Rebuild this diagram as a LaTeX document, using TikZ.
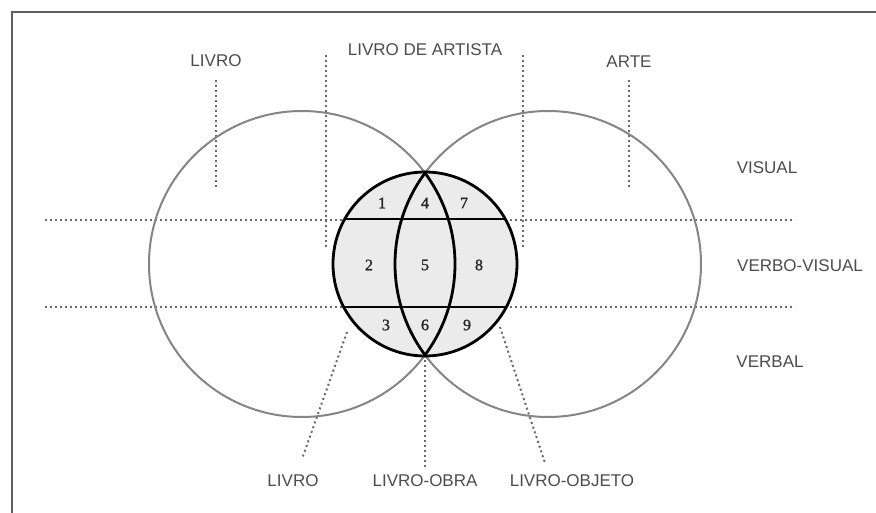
\documentclass[tikz,border=0pt]{standalone}
\usepackage{fontspec}
\setmainfont{Liberation Sans}
\newfontfamily\numfont[FakeBold=1.2]{Liberation Serif}
\usepackage{xcolor}
\usetikzlibrary{positioning}

\definecolor{labelgray}{HTML}{4C4C4C}
\definecolor{ringgray}{HTML}{858585}
\definecolor{guidegray}{HTML}{6A6A6A}
\definecolor{framegray}{HTML}{5E5E5E}
\definecolor{zonefill}{HTML}{EBEBEB}

\tikzset{
    lbl/.style={text=labelgray, inner sep=0pt, font=\fontsize{17}{19}\selectfont},
    num/.style={inner sep=0pt, text=black!85, font=\numfont\fontsize{16}{18}\selectfont},
    guide/.style={draw=guidegray, line width=2pt, dash pattern=on 2pt off 3pt},
    ring/.style={draw=ringgray, line width=2pt},
    inner/.style={draw=black, line width=2.8pt},
}

\begin{document}
\begin{tikzpicture}[x=1pt,y=-1pt]

    \useasboundingbox (0,0) rectangle (876,513);

    % --- Frame (top and left edge only) ---
    \draw[framegray, line width=2.6pt] (876,12) -- (12,12) -- (12,513);

    % --- Centres of the two big circles ---
    \coordinate (cLivro) at (302,264);
    \coordinate (cArte) at (548,264);
    \coordinate (cMid) at (425,264);
    \coordinate (pTop) at (425,173);
    \coordinate (pBot) at (425,355);

    % --- Top labels ---
    \node[lbl] (tLivro) at (216,61) {LIVRO};
    \node[lbl] (tArtista) at (425,50) {LIVRO DE ARTISTA};
    \node[lbl] (tArte) at (629,62) {ARTE};

    \coordinate (gLivroA) at (216,80);
    \coordinate (gLivroB) at (216,187);
    \coordinate (gArtLA) at (326,55);
    \coordinate (gArtLB) at (326,247);
    \coordinate (gArtRA) at (523,55);
    \coordinate (gArtRB) at (523,247);
    \coordinate (gArteA) at (629,80);
    \coordinate (gArteB) at (629,187);

    \draw[guide] (gLivroA) -- (gLivroB);
    \draw[guide] (gArtLA) -- (gArtLB);
    \draw[guide] (gArtRA) -- (gArtRB);
    \draw[guide] (gArteA) -- (gArteB);

    % --- Right labels ---
    \node[lbl] (rVisual) at (767,168) {VISUAL};
    \node[lbl] (rVerboVisual) at (800,266) {VERBO-VISUAL};
    \node[lbl] (rVerbal) at (770,362) {VERBAL};

    % --- Horizontal dotted bands ---
    \coordinate (hUpL) at (45,220);
    \coordinate (hUpR) at (795,220);
    \coordinate (hLoL) at (45,307);
    \coordinate (hLoR) at (795,307);
    \draw[guide] (hUpL) -- (hUpR);
    \draw[guide] (hLoL) -- (hLoR);

    % --- Bottom labels ---
    \node[lbl] (bLivro) at (293,481) {LIVRO};
    \node[lbl] (bObra) at (425,481) {LIVRO-OBRA};
    \node[lbl] (bObjeto) at (572,481) {LIVRO-OBJETO};

    \coordinate (gLivroC) at (347,332);
    \coordinate (gLivroD) at (302,459);
    \coordinate (gObraA) at (425,360);
    \coordinate (gObraB) at (425,467);
    \coordinate (gObjetoA) at (500,327);
    \coordinate (gObjetoB) at (545,463);

    \draw[guide] (gLivroC) -- (gLivroD);
    \draw[guide] (gObraA) -- (gObraB);
    \draw[guide] (gObjetoA) -- (gObjetoB);

    % --- Big circles ---
    \draw[ring] (cLivro) circle (153);
    \draw[ring] (cArte) circle (153);

    % --- Middle circle with its nine zones ---
    \fill[zonefill] (cMid) circle (92);
    \begin{scope}
        \clip (cMid) circle (92);
        \draw[inner] (330,219) -- (520,219);
        \draw[inner] (330,307) -- (520,307);
    \end{scope}
    \draw[inner] (pTop) arc[start angle=-36.5, end angle=36.5, radius=153]
        arc[start angle=143.5, end angle=216.5, radius=153] -- cycle;
    \draw[inner] (cMid) circle (92);

    % zone numbers
    \node[num] (z1) at (382,203) {1};
    \node[num] (z4) at (425,203) {4};
    \node[num] (z7) at (464,203) {7};
    \node[num] (z2) at (369,265) {2};
    \node[num] (z5) at (425,265) {5};
    \node[num] (z8) at (479,265) {8};
    \node[num] (z3) at (386,325) {3};
    \node[num] (z6) at (425,325) {6};
    \node[num] (z9) at (467,325) {9};

\end{tikzpicture}
\end{document}
